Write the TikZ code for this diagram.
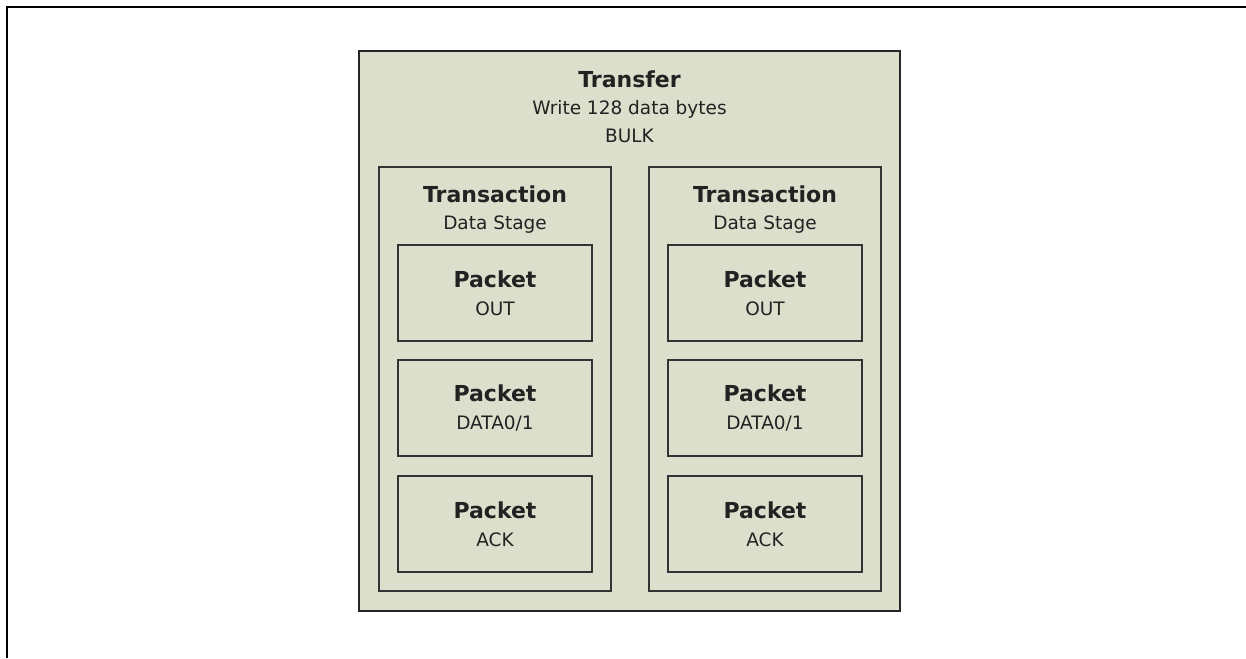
\documentclass[tikz,border=0pt]{standalone}
\usepackage{fontspec}
\setmainfont{DejaVu Sans}
\definecolor{boxfill}{RGB}{220,223,204}
\definecolor{boxline}{RGB}{51,51,51}
\definecolor{textgray}{RGB}{34,34,34}
\begin{document}
\begin{tikzpicture}[x=1pt, y=-1pt,
    box/.style={rectangle, draw=boxline, fill=boxfill, line width=2pt, inner sep=0pt},
    transactionbox/.style={box, minimum width=232pt, minimum height=424pt},
    packetbox/.style={box, minimum width=194pt, minimum height=96pt, align=center,
        text=textgray, font=\fontsize{18.5}{28}\selectfont},
    boxtitle/.style={anchor=north, align=center, inner sep=0pt, text=textgray,
        font=\fontsize{18.5}{27.5}\selectfont}]
    % Page frame
    \useasboundingbox (0,0) rectangle (1246,658);
    \draw [line width=2pt] (1246,7) -- (7,7) -- (7,658);
    % Transfer
    \node [box, draw=black!85, minimum width=541pt, minimum height=560pt] (transfer) at (629.5,331) {};
    \node [boxtitle] (transfertitle) at (629.5,70.3)
        {{\bfseries\fontsize{22}{27.5}\selectfont Transfer}\\Write 128 data bytes\\BULK};
    % Transactions
    \node [transactionbox] (transleft) at (495,379) {};
    \node [boxtitle] (translefttitle) at (495,185.3)
        {{\bfseries\fontsize{22}{27.5}\selectfont Transaction}\\Data Stage};
    \node [transactionbox] (transright) at (765,379) {};
    \node [boxtitle] (transrighttitle) at (765,185.3)
        {{\bfseries\fontsize{22}{27.5}\selectfont Transaction}\\Data Stage};
    % Packets
    \node [packetbox] (outleft) at (495,293) {{\bfseries\fontsize{22}{28}\selectfont Packet}\\OUT};
    \node [packetbox] (dataleft) at (495,408) {{\bfseries\fontsize{22}{28}\selectfont Packet}\\DATA0/1};
    \node [packetbox] (ackleft) at (495,524) {{\bfseries\fontsize{22}{28}\selectfont Packet}\\ACK};
    \node [packetbox] (outright) at (765,293) {{\bfseries\fontsize{22}{28}\selectfont Packet}\\OUT};
    \node [packetbox] (dataright) at (765,408) {{\bfseries\fontsize{22}{28}\selectfont Packet}\\DATA0/1};
    \node [packetbox] (ackright) at (765,524) {{\bfseries\fontsize{22}{28}\selectfont Packet}\\ACK};
\end{tikzpicture}
\end{document}
